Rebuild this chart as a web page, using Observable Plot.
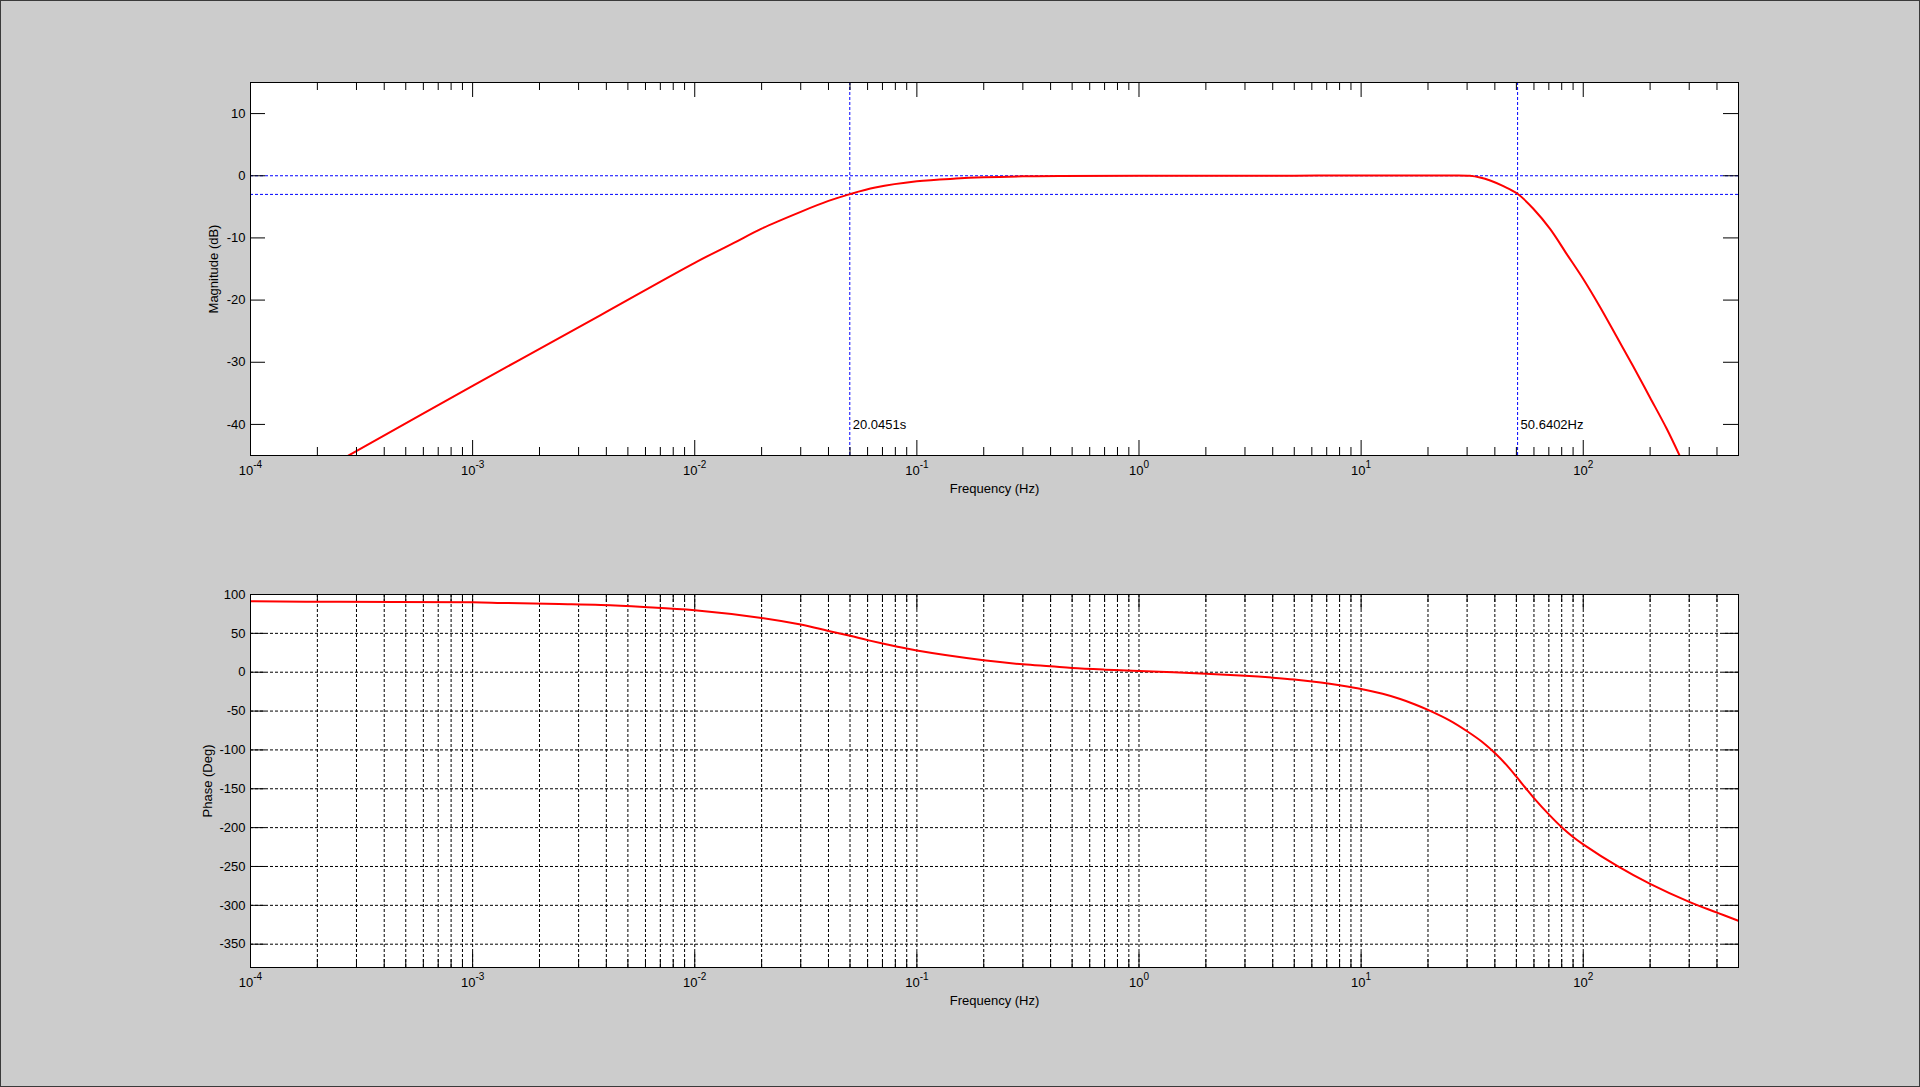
<!DOCTYPE html>
<html><head><meta charset="utf-8">
<script src="https://cdn.jsdelivr.net/npm/d3@7"></script>
<script src="https://cdn.jsdelivr.net/npm/@observablehq/plot@0.6"></script>
<style>
html,body{margin:0;padding:0;background:#cccccc;}
#fig{position:relative;width:1920px;height:1087px;overflow:hidden;background:#cccccc;}
#border{position:absolute;left:0;top:0;right:0;bottom:0;border:1px solid #3a3a3a;pointer-events:none;}
.panel{position:absolute;left:0;}
</style></head><body>
<div id="fig"><div id="mag" class="panel" style="top:0px"></div><div id="phase" class="panel" style="top:500px"></div><div id="border"></div></div>
<script>
// ---- data ----
const magFreq = [2.7e-4, 1e-3, 3.77e-3, 1e-2, 0.015, 0.02, 0.03, 0.04, 0.05, 0.065, 0.1, 0.15, 0.2, 0.3, 0.44, 1, 5, 7.5, 15, 25, 30.9, 34.3, 38.1, 43.7, 50.6, 59.6, 70.9, 84.3, 100, 119, 141.5, 168, 200, 237.6, 270.7];
const magDb   = [-45.2, -33.8, -22.4, -14.0, -10.8, -8.5, -5.8, -4.05, -2.95, -1.9, -0.9, -0.45, -0.25, -0.1, -0.05, 0, 0, 0.05, 0.05, 0.05, 0, -0.27, -0.76, -1.67, -2.9, -5.3, -8.55, -12.6, -16.6, -21.1, -25.9, -30.7, -35.7, -40.7, -44.9];

const phaseFreq = [1e-4, 2.5e-4, 1e-3, 1.36e-3, 2.45e-3, 3.77e-3, 5.9e-3, 1e-2, 0.02, 0.03, 0.04, 0.05, 0.06, 0.08, 0.1, 0.2, 0.3, 0.4, 0.5, 0.7, 1, 2, 3, 4, 5, 6.58, 8, 10, 12.5, 15, 17.5, 20, 25, 30, 35, 40, 45, 50, 55, 60, 70, 80, 90, 100, 141.5, 200, 300, 400, 500];
const phaseDeg  = [91.2, 90.6, 90.0, 89.2, 87.8, 86.6, 84.0, 79.8, 69.9, 61.3, 53.1, 46.8, 41.3, 33.4, 27.8, 15.3, 10.1, 7.6, 5.4, 3.3, 1.6, -1.9, -4.5, -7.0, -9.4, -13.3, -16.8, -21.5, -27.8, -34.5, -41.5, -48.5, -62, -76, -89.5, -104, -119, -134.5, -149, -162, -183, -199.5, -212, -221.5, -249, -272.5, -295.6, -309.3, -320];

const xMajor = [1e-4, 1e-3, 1e-2, 1e-1, 1, 10, 100];
const xExp = ["-4", "-3", "-2", "-1", "0", "1", "2"];
const xMantissa = [2, 3, 4, 5, 6, 7, 8, 9];
const xDomain = [1e-4, 500];
const magTicks = [10, 0, -10, -20, -30, -40];
const magDomain = [-45, 15];
const phaseTicks = [100, 50, 0, -50, -100, -150, -200, -250, -300, -350];
const phaseDomain = [-380, 100];
const cutoffFreq = [0.04989, 50.6402];
const cutoffLabels = ["20.0451s", "50.6402Hz"];
const cutoffLabelLevel = -40;
const refLevels = [0, -3];

const xMinor = xMajor.flatMap(d => xMantissa.map(m => m * d)).filter(v => v < xDomain[1]);
const magData = magFreq.map((f, i) => ({f, v: magDb[i]}));
const phaseData = phaseFreq.map((f, i) => ({f, v: phaseDeg[i]}));

const W = 1920, ML = 250, MR = 182;
const PW = W - ML - MR; // 1488
const PH = 373;
const FONT = "'Liberation Sans', Arial, Helvetica, sans-serif";

function tickMarks(yTicks) {
  return [
    Plot.tickX(xMajor, {stroke: "black", insetTop: PH - 15}),
    Plot.tickX(xMajor, {stroke: "black", insetBottom: PH - 15}),
    Plot.tickX(xMinor, {stroke: "black", insetTop: PH - 8}),
    Plot.tickX(xMinor, {stroke: "black", insetBottom: PH - 8}),
    Plot.tickY(yTicks, {stroke: "black", insetRight: PW - 15}),
    Plot.tickY(yTicks, {stroke: "black", insetLeft: PW - 15})
  ];
}
function axes(yTicks, yLabel, yLabelDx) {
  return [
    Plot.axisX(xMajor, {anchor: "bottom", tickSize: 0, tickPadding: 10, label: null, fontSize: 13,
      tickFormat: d => "10^" + xExp[xMajor.indexOf(d)]}),
    Plot.axisY(yTicks, {anchor: "left", tickSize: 0, tickPadding: 5, label: null, fontSize: 13,
      tickFormat: d => String(d)}),
    Plot.text([yLabel], {text: d => d, frameAnchor: "left", dx: yLabelDx, rotate: -90, fontSize: 13, fill: "black",
      textAnchor: "middle", lineAnchor: "middle"}),
    Plot.text(["Frequency (Hz)"], {text: d => d, frameAnchor: "bottom", dy: 33, fontSize: 13, fill: "black",
      textAnchor: "middle", lineAnchor: "middle"})
  ];
}
function superscripts(svg) {
  d3.select(svg).selectAll('g[aria-label="x-axis tick label"] text').each(function() {
    const parts = this.textContent.split("^");
    const t = d3.select(this);
    t.text(null);
    t.append("tspan").text(parts[0]);
    t.append("tspan").attr("dy", "-7").attr("font-size", "10px").text(parts[1]);
  });
  return svg;
}

const magPlot = Plot.plot({
  width: W, height: 540,
  marginLeft: ML, marginRight: MR, marginTop: 82, marginBottom: 85,
  style: {background: "transparent", fontFamily: FONT, fontSize: "13px", color: "black", overflow: "visible"},
  x: {type: "log", domain: xDomain},
  y: {domain: magDomain},
  marks: [
    Plot.frame({fill: "white", stroke: null}),
    Plot.ruleY(refLevels, {stroke: "#0000ff", strokeWidth: 1, strokeDasharray: "3,2"}),
    Plot.ruleX(cutoffFreq, {stroke: "#0000ff", strokeWidth: 1, strokeDasharray: "3,2"}),
    Plot.text(cutoffFreq, {x: d => d, y: () => cutoffLabelLevel, text: (d, i) => cutoffLabels[i],
      textAnchor: "start", dx: 3, fontSize: 13, fill: "black"}),
    Plot.line(magData, {x: "f", y: "v", stroke: "#ff0000", strokeWidth: 2, curve: "catmull-rom", clip: true}),
    ...tickMarks(magTicks),
    Plot.frame({stroke: "black", fill: null}),
    ...axes(magTicks, "Magnitude (dB)", -37)
  ]
});
document.getElementById("mag").appendChild(superscripts(magPlot));

const phasePlot = Plot.plot({
  width: W, height: 587,
  marginLeft: ML, marginRight: MR, marginTop: 94, marginBottom: 120,
  style: {background: "transparent", fontFamily: FONT, fontSize: "13px", color: "black", overflow: "visible"},
  x: {type: "log", domain: xDomain},
  y: {domain: phaseDomain},
  marks: [
    Plot.frame({fill: "white", stroke: null}),
    Plot.ruleX(xMajor.concat(xMinor), {stroke: "black", strokeWidth: 1, strokeDasharray: "3,2"}),
    Plot.ruleY(phaseTicks, {stroke: "black", strokeWidth: 1, strokeDasharray: "3,2"}),
    ...tickMarks(phaseTicks),
    Plot.line(phaseData, {x: "f", y: "v", stroke: "#ff0000", strokeWidth: 2, curve: "catmull-rom", clip: true}),
    Plot.frame({stroke: "black", fill: null}),
    ...axes(phaseTicks, "Phase (Deg)", -43)
  ]
});
document.getElementById("phase").appendChild(superscripts(phasePlot));
</script>
</body></html>
